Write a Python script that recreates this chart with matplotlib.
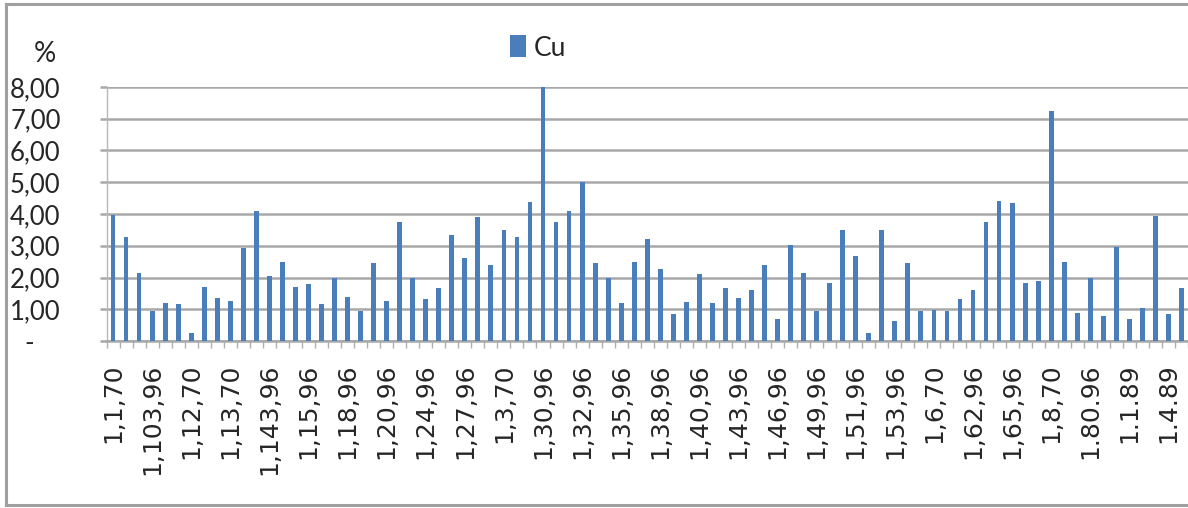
import numpy as np
import matplotlib
matplotlib.use("Agg")
import matplotlib.pyplot as plt
from matplotlib.lines import Line2D

# Cu content per sample (%)
cu_values = [
    3.97, 3.29, 2.15, 0.96, 1.19, 1.17, 0.24, 1.70, 1.34, 1.25,
    2.92, 4.10, 2.05, 2.50, 1.70, 1.80, 1.17, 1.99, 1.40, 0.96,
    2.45, 1.25, 3.74, 1.97, 1.31, 1.66, 3.34, 2.60, 3.90, 2.39,
    3.50, 3.29, 4.39, 8.00, 3.74, 4.10, 5.00, 2.45, 1.97, 1.19,
    2.50, 3.20, 2.26, 0.84, 1.24, 2.10, 1.19, 1.66, 1.34, 1.61,
    2.39, 0.70, 3.01, 2.15, 0.96, 1.84, 3.50, 2.69, 0.24, 3.50,
    0.64, 2.45, 0.96, 0.98, 0.96, 1.31, 1.61, 3.74, 4.42, 4.34,
    1.84, 1.90, 7.23, 2.50, 0.89, 1.97, 0.80, 2.95, 0.69, 1.05,
    3.95, 0.84, 1.66,
]

# Sample labels shown under every third bar
sample_labels = [
    "1,1,70", "1,103,96", "1,12,70", "1,13,70", "1,143,96", "1,15,96",
    "1,18,96", "1,20,96", "1,24,96", "1,27,96", "1,3,70", "1,30,96",
    "1,32,96", "1,35,96", "1,38,96", "1,40,96", "1,43,96", "1,46,96",
    "1,49,96", "1,51,96", "1,53,96", "1,6,70", "1,62,96", "1,65,96",
    "1,8,70", "1.80.96", "1.1.89", "1.4.89",
]
label_step = 3

y_ticks = [0, 1, 2, 3, 4, 5, 6, 7, 8]
y_tick_labels = ["-    ", "1,00", "2,00", "3,00", "4,00", "5,00", "6,00", "7,00", "8,00"]

BAR_COLOR = "#4a7ebb"
GRID_COLOR = "#a8a8a8"
TEXT_COLOR = "#262626"

W, H = 1188, 508
fig = plt.figure(figsize=(W / 100, H / 100), dpi=100)
fig.patch.set_facecolor("white")

ax = fig.add_axes([106.5 / W, (H - 341) / H, (W - 106.5) / W, (341 - 87) / H])

x = np.arange(len(cu_values))
bars = ax.bar(x, cu_values, width=0.37, color=BAR_COLOR, zorder=3, label="Cu")

ax.set_xlim(-0.5, -0.5 + (W - 106.5) / 13.04)
ax.set_ylim(0, 8)

# y axis: gridlines with outward tick stubs
ax.set_yticks(y_ticks)
ax.set_yticklabels(y_tick_labels, fontfamily="Lato", fontsize=18.5, color=TEXT_COLOR)
ax.tick_params(axis="y", direction="out", length=5, width=1.8, color=GRID_COLOR, pad=28)
ax.yaxis.grid(True, color=GRID_COLOR, linewidth=1.8, zorder=0)
ax.set_axisbelow(True)

# x axis: tick marks between categories, labels on every third bar
ax.set_xticks(np.arange(-0.5, len(cu_values), 1), minor=True)
ax.set_xticks(x[::label_step][:len(sample_labels)])
ax.set_xticklabels(sample_labels, rotation=90, fontfamily="DejaVu Sans",
                   fontsize=18, color=TEXT_COLOR, va="top", ha="center")
ax.tick_params(axis="x", which="major", length=0, pad=16)
ax.tick_params(axis="x", which="minor", direction="out", length=5, width=1, color="#b0b0b0")

for side in ("top", "right"):
    ax.spines[side].set_visible(False)
ax.spines["left"].set_color("#b8b8b8")
ax.spines["left"].set_linewidth(1.0)
ax.spines["bottom"].set_color(GRID_COLOR)
ax.spines["bottom"].set_linewidth(1.8)

# unit marker above the y axis
fig.text(45 / W, 1 - 54 / H, "%", fontfamily="Lato", fontsize=20,
         color=TEXT_COLOR, ha="center", va="center")

# legend
fig.legend(handles=[bars], labels=["Cu"], loc="center",
           bbox_to_anchor=(538 / W, 1 - 48 / H), frameon=False,
           prop={"family": "Lato", "size": 19},
           handlelength=0.6, handleheight=0.9, handletextpad=0.3,
           labelcolor=TEXT_COLOR)

# outer chart frame
frame_kw = dict(color="#a0a0a0", linewidth=2.2, transform=fig.transFigure)
fig.add_artist(Line2D([6 / W, 1], [1 - 4 / H, 1 - 4 / H], **frame_kw))
fig.add_artist(Line2D([6 / W, 6 / W], [1 - 4 / H, 1 - 505 / H], **frame_kw))
fig.add_artist(Line2D([6 / W, 1], [1 - 505 / H, 1 - 505 / H], **frame_kw))

fig.savefig("out.png", dpi=100)
